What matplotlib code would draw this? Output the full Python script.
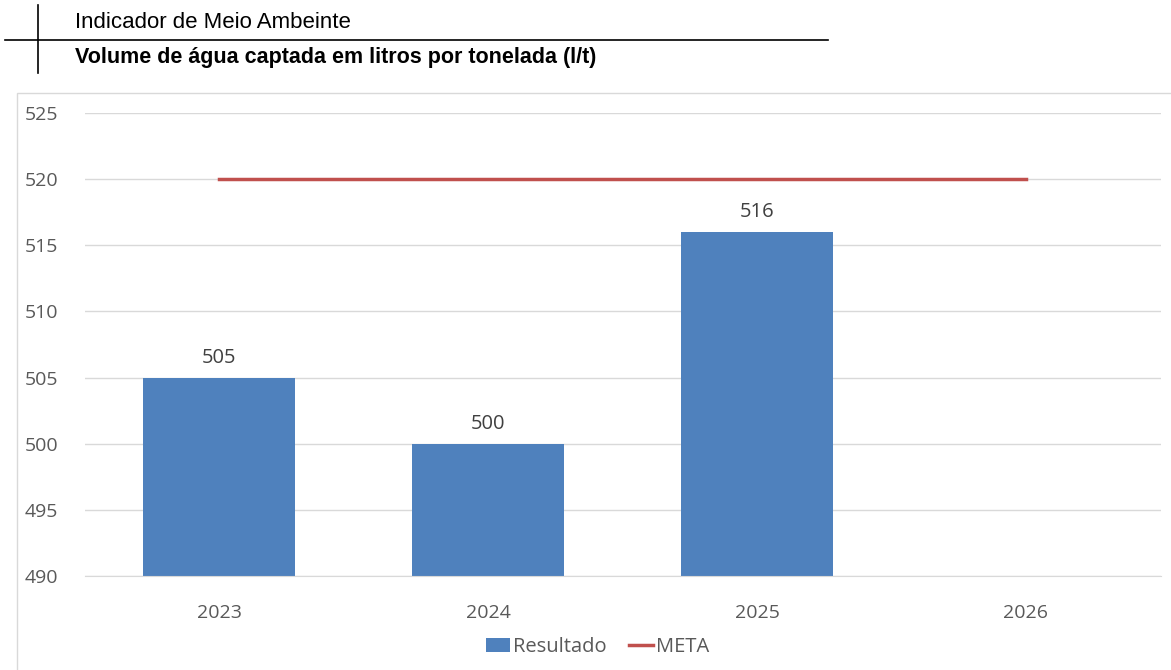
import matplotlib
matplotlib.use('Agg')
import matplotlib.pyplot as plt
from matplotlib.lines import Line2D
from matplotlib.patches import Patch, Rectangle
from matplotlib.transforms import ScaledTranslation

# Data
years = ['2023', '2024', '2025', '2026']
resultado = [505, 500, 516]
meta = [520, 520, 520, 520]

blue = '#4F81BD'
red = '#C0504D'
grey_txt = '#595959'

fig = plt.figure(figsize=(11.71, 6.70), dpi=100)

# header lines and texts
fig.add_artist(Line2D([5/1171, 828/1171], [1-40/670, 1-40/670], color='black', lw=1.2))
fig.add_artist(Line2D([38/1171, 38/1171], [1-5/670, 1-73/670], color='black', lw=1.2))
fig.text(75/1171, 1-22/670, 'Indicador de Meio Ambeinte', family='Liberation Sans',
         fontsize=16, va='center', ha='left')
fig.text(75/1171, 1-58/670, 'Volume de água captada em litros por tonelada (l/t)',
         family='Liberation Sans', fontsize=15.5, fontweight='bold', va='center', ha='left')

# chart frame
fig.add_artist(Rectangle((17/1171, -0.01), 1.02 - 17/1171, 1-93/670 + 0.01,
                         transform=fig.transFigure, fill=False, edgecolor='#D9D9D9', lw=1))

ax = fig.add_axes([84.5/1171, 1-576/670, 1076/1171, 463/670])
x = list(range(len(years)))
ax.bar(x[:len(resultado)], resultado, width=0.565, color=blue, label='Resultado', zorder=2)
ax.plot(x, meta, color=red, lw=2.5, label='META', zorder=3)

for xi, v in zip(x, resultado):
    ax.text(xi, v + 0.75, str(v), ha='center', va='bottom', fontsize=14.5,
            color='#404040', family='Open Sans')

ax.set_ylim(490, 525)
ax.set_xlim(-0.5, 3.5)
ax.set_yticks(range(490, 526, 5))
ax.set_xticks(x)
ax.set_xticklabels(years)
ax.yaxis.grid(True, color='#D9D9D9', lw=1, zorder=0)
ax.set_axisbelow(True)
for s in ['top', 'right', 'left']:
    ax.spines[s].set_visible(False)
ax.spines['bottom'].set_color('#D9D9D9')
ax.tick_params(axis='both', length=0, labelsize=14, colors=grey_txt)
ax.tick_params(axis='x', pad=20)
ax.tick_params(axis='y', pad=0)
for lab in ax.get_xticklabels() + ax.get_yticklabels():
    lab.set_family('Open Sans')
for lab in ax.get_yticklabels():
    lab.set_horizontalalignment('left')
    lab.set_transform(ax.get_yaxis_transform() + ScaledTranslation(-60/100, 0, fig.dpi_scale_trans))

handles = [Patch(facecolor=blue, label='Resultado'),
           Line2D([0], [0], color=red, lw=2.5, label='META')]
fig.legend(handles=handles, loc='center', bbox_to_anchor=(598/1171, 1-647/670), ncol=2,
           frameon=False, prop={'family': 'Open Sans', 'size': 14.5}, labelcolor=grey_txt,
           handlelength=1.2, handletextpad=0.15, columnspacing=1.1)

fig.savefig('out.png', dpi=100)
